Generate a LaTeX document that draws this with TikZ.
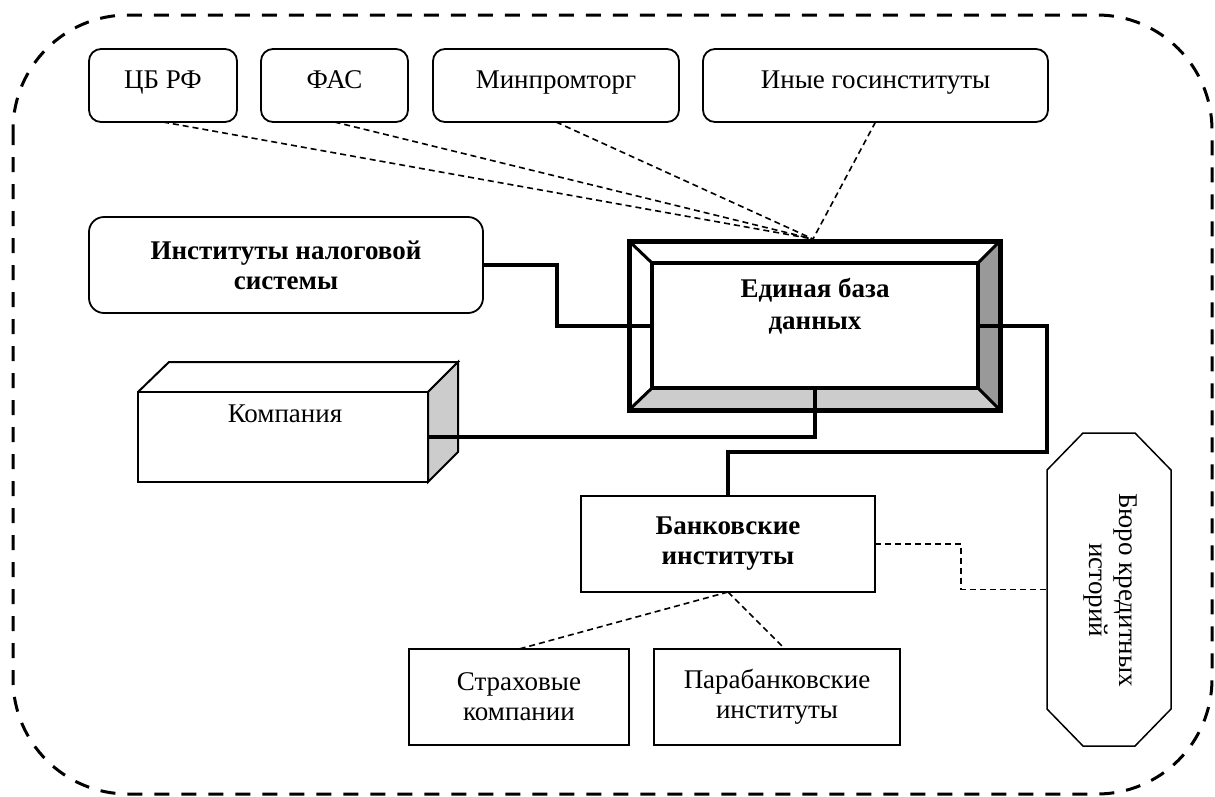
\documentclass[tikz,border=0pt]{standalone}
\usepackage{fontspec}
\setmainfont{Liberation Serif}
\usetikzlibrary{calc}
\begin{document}
\begin{tikzpicture}[x=1pt, y=-1pt,
  every node/.style={font=\fontsize{27}{30}\selectfont, inner sep=0pt, outer sep=0pt},
  boldtxt/.style={font=\fontsize{27}{30}\selectfont\bfseries},
  rbox/.style={draw, line width=1.8, rounded corners=12},
  sbox/.style={draw, line width=2},
  conn/.style={line width=4, line join=miter},
  dlink/.style={line width=1.6, dash pattern=on 6pt off 4pt},
  frame/.style={line width=3, dash pattern=on 15pt off 12pt, rounded corners=115}]

\useasboundingbox (0,0) rectangle (1215,796);

% dashed outer frame
\draw[frame] (13,15) rectangle (1212,794);

% state institutions (top row)
\node[rbox, minimum width=148, minimum height=73] (cb) at (163,85.5) {};
\node[anchor=base] (cbt) at ($(cb.north)+(0,39)$) {ЦБ РФ};
\node[rbox, minimum width=147, minimum height=73] (fas) at (334.5,85.5) {};
\node[anchor=base] (fast) at ($(fas.north)+(0,39)$) {ФАС};
\node[rbox, minimum width=246, minimum height=73] (minp) at (556,85.5) {};
\node[anchor=base] (minpt) at ($(minp.north)+(0,39)$) {Минпромторг};
\node[rbox, minimum width=345, minimum height=73] (oth) at (875.5,85.5) {};
\node[anchor=base] (otht) at ($(oth.north)+(0,39)$) {Иные госинституты};

% central database with bevelled frame
\node[minimum width=371, minimum height=169] (dbout) at (814.5,325.5) {};
\node[minimum width=326, minimum height=125] (db) at (815,325.5) {};
\fill[gray!40] (dbout.south west) -- (dbout.south east) -- (db.south east) -- (db.south west) -- cycle;
\fill[black!40] (dbout.north east) -- (dbout.south east) -- (db.south east) -- (db.north east) -- cycle;
\draw[line width=3] (dbout.north west) -- (db.north west)
                    (dbout.north east) -- (db.north east)
                    (dbout.south west) -- (db.south west)
                    (dbout.south east) -- (db.south east);
\draw[line width=5] (dbout.north west) rectangle (dbout.south east);
\draw[line width=4] (db.north west) rectangle (db.south east);
\node[boldtxt, align=center] (dbt) at (815,306) {Единая база\\[2pt]данных};

% tax institutions
\node[rbox, rounded corners=15, boldtxt, align=center, minimum width=394, minimum height=96] (nal) at (286,265) {Институты налоговой\\системы};

% company (cuboid)
\node[sbox, minimum width=290, minimum height=90] (comp) at (283,437) {};
\draw[line width=2, line join=miter] (comp.north west) -- ++(31,-30) -- ++(289,0) -- (comp.north east);
\filldraw[fill=gray!40, line width=2, line join=miter] (comp.north east) -- ++(30,-30) -- ++(0,90) -- (comp.south east) -- cycle;
\node[anchor=base] (compt) at ($(comp.north)+(2,30)$) {Компания};

% banking institutions and related
\node[sbox, boldtxt, align=center, minimum width=294, minimum height=96] (bank) at (728,544) {Банковские\\институты};
\node[sbox, align=center, minimum width=220, minimum height=96] (ins) at (519,697) {Страховые\\компании};
\node[sbox, align=center, minimum width=246, minimum height=96] (para) at (777,697) {Парабанковские\\институты};

% credit bureau (octagon)
\node[minimum width=124, minimum height=313] (bureau) at (1109,589.5) {};
\draw[line width=1.5, line join=miter]
  ($(bureau.north west)+(36,0)$) -- ($(bureau.north east)+(-36,0)$) --
  ($(bureau.north east)+(0,37)$) -- ($(bureau.south east)+(0,-37)$) --
  ($(bureau.south east)+(-36,0)$) -- ($(bureau.south west)+(36,0)$) --
  ($(bureau.south west)+(0,-37)$) -- ($(bureau.north west)+(0,37)$) -- cycle;
\node[rotate=-90, align=center] (burt) at (1110,590) {Бюро кредитных\\историй};

% dashed links from state institutions
\coordinate (hub) at (813,239);
\draw[dlink] (cb.south) -- (hub);
\draw[dlink] (fas.south) -- (hub);
\draw[dlink] (minp.south) -- (hub);
\draw[dlink] (oth.south) -- (hub);

% solid links to the database
\draw[conn] (nal.east) -- ++(74,0) |- (db.west);
\draw[conn] (comp.east) -| (db.south);
\draw[conn] (db.east) -- ++(69,0) |- ($(bank.north)+(0,-44)$) -- (bank.north);

% dashed links from the banks
\draw[dlink] (bank.east) -- ++(86,0) |- (bureau.west);
\draw[dlink] (bank.south) -- (ins.north);
\draw[dlink] (bank.south) -- ($(para.north)+(8,0)$);
\end{tikzpicture}
\end{document}
